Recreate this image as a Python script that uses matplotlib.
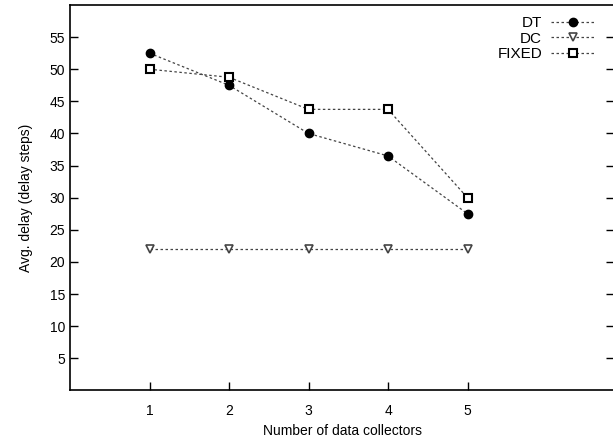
import matplotlib
matplotlib.use("Agg")
import matplotlib.pyplot as plt

plt.rcParams["font.family"] = ["Liberation Sans", "DejaVu Sans"]
plt.rcParams["font.size"] = 10

collectors = [1, 2, 3, 4, 5]
dt_delay = [52.5, 47.5, 40.0, 36.5, 27.5]
dc_delay = [22.0, 22.0, 22.0, 22.0, 22.0]
fixed_delay = [50.0, 48.75, 43.75, 43.75, 30.0]

fig = plt.figure(figsize=(6.13, 4.41), dpi=100)
ax = fig.add_axes([70 / 613, 1 - 390.4 / 441, 544 / 613, 385.4 / 441])

line_kw = dict(color="#444444", linestyle=(0, (2, 2)), linewidth=0.9)
ax.plot(collectors, dt_delay, marker="o", markersize=6, markerfacecolor="black",
        markeredgecolor="black", label="DT", **line_kw)
ax.plot(collectors, dc_delay, marker="v", markersize=5.5, markerfacecolor="white",
        markeredgecolor="#444444", markeredgewidth=1.2, label="DC", **line_kw)
ax.plot(collectors, fixed_delay, marker="s", markersize=5.5, markerfacecolor="white",
        markeredgecolor="black", markeredgewidth=1.5, label="FIXED", **line_kw)

ax.set_xlim(0, 544 / 79.5)
ax.set_ylim(0, 60)
ax.set_xticks(collectors)
ax.set_yticks(range(5, 60, 5))
ax.tick_params(direction="in", length=6, width=1, right=True, labelsize=10)
ax.tick_params(axis="x", pad=10)
for s in ax.spines.values():
    s.set_linewidth(1.2)

ax.set_xlabel("Number of data collectors", fontsize=10)
ax.set_ylabel("Avg. delay (delay steps)", fontsize=10, labelpad=12)

ax.legend(loc="upper right", bbox_to_anchor=(594 / 613, 1 - 16 / 441),
          bbox_transform=fig.transFigure, frameon=False, markerfirst=False,
          handlelength=2.8, handletextpad=0.6, labelspacing=0.1,
          borderpad=0, borderaxespad=0, fontsize=11)

fig.savefig("out.png", dpi=100)
